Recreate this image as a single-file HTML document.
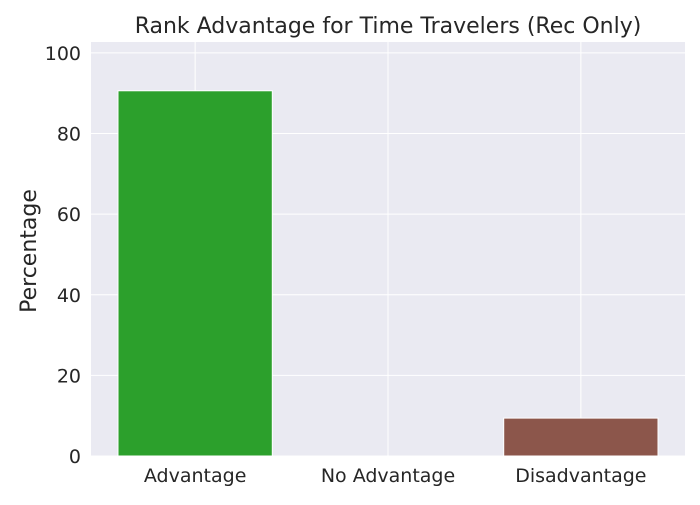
<!DOCTYPE html>
<html><head><meta charset="utf-8"><style>
body{margin:0;background:#fff;}
svg text{font-family:"DejaVu Sans","Liberation Sans",sans-serif;fill:#262626;}
</style></head><body>
<svg id="chart" width="700" height="500">
<rect x="91" y="42" width="594" height="414" fill="#eaeaf2"/>
<g id="grid"></g><g id="bars"></g><g id="ticks"></g>
<text x="388" y="33" font-size="22" text-anchor="middle">Rank Advantage for Time Travelers (Rec Only)</text>
<text transform="translate(36,251) rotate(-90)" font-size="22" text-anchor="middle">Percentage</text>
</svg>
<script>
const categories=["Advantage","No Advantage","Disadvantage"];
const values=[90.6,0,9.4];
const colors=["#2ca02c","#ff7f0e","#8c564b"];
const yTicks=[0,20,40,60,80,100];
const L=91,R=685,T=42,B=456,ymax=102.7,xmin=-0.54,xmax=2.54;
const y=v=>B-(v/ymax)*(B-T);
const x=i=>L+(i-xmin)/(xmax-xmin)*(R-L);
const bw=0.8*(R-L)/(xmax-xmin);
const ns="http://www.w3.org/2000/svg";
const g=document.getElementById('grid'),bg=document.getElementById('bars'),tg=document.getElementById('ticks');
function mk(tag,a,p){const e=document.createElementNS(ns,tag);for(const k in a)e.setAttribute(k,a[k]);p.appendChild(e);return e;}
yTicks.forEach(t=>{
 const l=mk('line',{x1:L,x2:R,y1:y(t),y2:y(t),stroke:'#fff','stroke-width':1},g);
 
 
 const tx=mk('text',{x:L-10,y:y(t)+7,'font-size':19,'text-anchor':'end'},tg);
 tx.textContent=t;
 
 
});
categories.forEach((c,i)=>{
 const l=mk('line',{x1:x(i),x2:x(i),y1:T,y2:B,stroke:'#fff','stroke-width':1},g);
 
 
 const r=mk('rect',{x:x(i)-bw/2,y:y(values[i]),width:bw,height:B-y(values[i]),fill:colors[i],stroke:'#fff','stroke-width':1},bg);
 
 
 const tx=mk('text',{x:x(i),y:B+26,'font-size':19,'text-anchor':'middle'},tg);
 tx.textContent=c;
 
 
});
</script>
</body></html>
